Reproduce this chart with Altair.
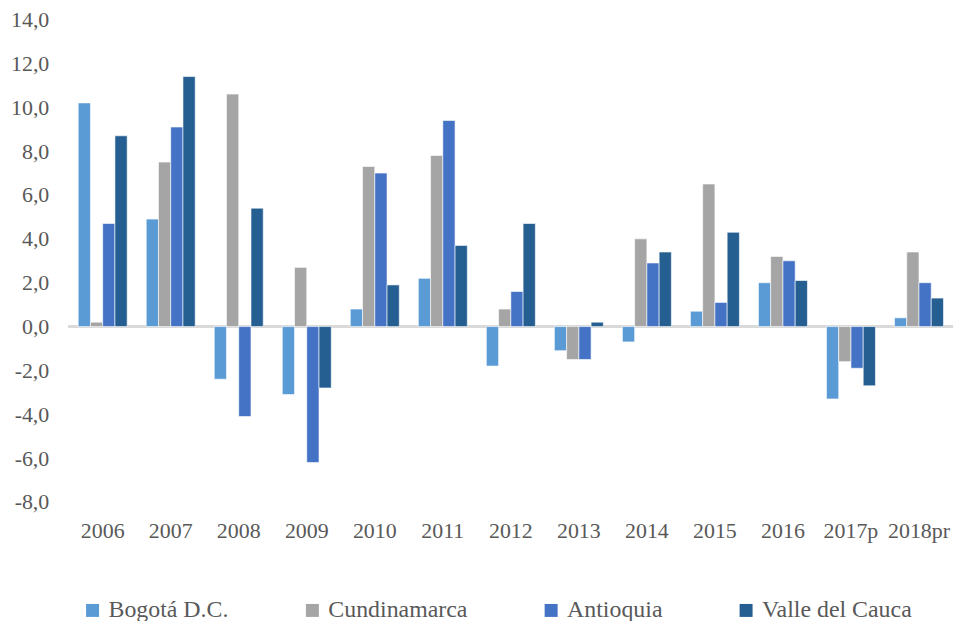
import altair as alt
import pandas as pd

years = ["2006", "2007", "2008", "2009", "2010", "2011", "2012", "2013",
         "2014", "2015", "2016", "2017p", "2018pr"]
series = ["Bogotá D.C.", "Cundinamarca", "Antioquia", "Valle del Cauca"]
bogota = [10.2, 4.9, -2.4, -3.1, 0.8, 2.2, -1.8, -1.1, -0.7, 0.7, 2.0, -3.3, 0.4]
cundinamarca = [0.2, 7.5, 10.6, 2.7, 7.3, 7.8, 0.8, -1.5, 4.0, 6.5, 3.2, -1.6, 3.4]
antioquia = [4.7, 9.1, -4.1, -6.2, 7.0, 9.4, 1.6, -1.5, 2.9, 1.1, 3.0, -1.9, 2.0]
valle = [8.7, 11.4, 5.4, -2.8, 1.9, 3.7, 4.7, 0.2, 3.4, 4.3, 2.1, -2.7, 1.3]
colors = ["#5B9BD5", "#A5A5A5", "#4472C4", "#255E91"]

rows = []
for name, vals in zip(series, [bogota, cundinamarca, antioquia, valle]):
    for y, v in zip(years, vals):
        rows.append({"year": y, "series": name, "value": v})
df = pd.DataFrame(rows)

FONT = "Liberation Serif, Times New Roman, serif"
TXT = "#595959"

label_expr = "replace(replace(format(datum.value, '.1f'), '.', ','), '\u2212', '-')"

bars = alt.Chart(df).mark_bar(stroke="white", strokeWidth=0.6).encode(
    x=alt.X("year:N", sort=years, title=None,
            scale=alt.Scale(paddingInner=0.28, paddingOuter=0.14),
            axis=alt.Axis(labelAngle=0, ticks=False, domain=False, labelFont=FONT,
                          labelFontSize=22, labelColor=TXT, labelPadding=19)),
    xOffset=alt.XOffset("series:N", sort=series),
    y=alt.Y("value:Q", title=None,
            scale=alt.Scale(domain=[-8, 14], nice=False, zero=False),
            axis=alt.Axis(values=list(range(-8, 15, 2)), grid=False, ticks=False,
                          domain=False, labelFont=FONT, labelFontSize=22,
                          labelColor=TXT, labelPadding=20, labelExpr=label_expr)),
    color=alt.Color("series:N", sort=series,
                    scale=alt.Scale(domain=series, range=colors),
                    legend=alt.Legend(title=None, orient="none", direction="horizontal",
                                      legendX=12, legendY=582, columns=4,
                                      columnPadding=72, symbolType="square",
                                      symbolSize=170, symbolStrokeWidth=0,
                                      labelFont=FONT, labelFontSize=24,
                                      labelColor=TXT, labelOffset=4)),
)

zero = alt.Chart(df).mark_rule(color="#D9D9D9", strokeWidth=2).encode(
    y=alt.datum(0)
)

chart = alt.layer(zero, bars).properties(
    width=889, height=485,
    autosize=alt.AutoSizeParams(type="none"),
    padding={"left": 61, "top": 10, "right": 0, "bottom": 118},
).configure_view(stroke=None)

chart.save("out.html", embed_options={"renderer": "svg", "actions": False})
